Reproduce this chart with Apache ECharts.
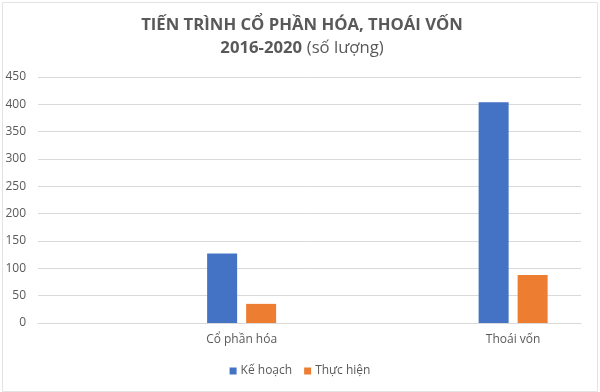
<!DOCTYPE html>
<html>
<head>
<meta charset="utf-8">
<script src="https://cdn.jsdelivr.net/npm/echarts@6/dist/echarts.min.js"></script>
<style>html,body{margin:0;padding:0;background:#fff}#c{width:600px;height:392px}</style>
</head>
<body>
<div id="c"></div>
<script>
var categories = ['', 'Cổ phần hóa', '', 'Thoái vốn'];
var keHoach = [null, 127, null, 404];
var thucHien = [null, 35, null, 88];
var yTicks = { min: 0, max: 450, interval: 50 };

var chart = echarts.init(document.getElementById('c'), null, { renderer: 'canvas' });
var font = '"Open Sans", "Noto Sans", sans-serif';
chart.setOption({
  backgroundColor: '#ffffff',
  animation: false,
  textStyle: { fontFamily: font },
  graphic: [{
    type: 'rect', left: 0, top: 0, shape: { width: 595, height: 389 },
    style: { fill: 'none', stroke: '#e3e3e3', lineWidth: 1 }, silent: true, z: -1
  }],
  title: {
    text: '{b|TIẾN TRÌNH CỔ PHẦN HÓA, THOÁI VỐN}\n{b|2016-2020} {n|(số lượng)}',
    left: 297, textAlign: 'center', top: 9,
    textStyle: {
      rich: {
        b: { fontFamily: font, fontSize: 16.7, fontWeight: 'bold', color: '#595959', lineHeight: 23 },
        n: { fontFamily: font, fontSize: 16.7, fontWeight: 'normal', color: '#595959', lineHeight: 23 }
      }
    }
  },
  legend: {
    data: ['Kế hoạch', 'Thực hiện'],
    top: 360, left: 'center',
    itemWidth: 7, itemHeight: 7, itemGap: 12,
    icon: 'rect',
    textStyle: { color: '#595959', fontSize: 12, fontFamily: font, padding: [0, 0, 0, -1] }
  },
  grid: { left: 38, right: 19, top: 77, bottom: 69, containLabel: false },
  xAxis: {
    type: 'category', data: categories,
    axisLine: { show: true, lineStyle: { color: '#d9d9d9' } },
    axisTick: { show: false },
    axisLabel: { color: '#595959', fontSize: 12, margin: 11, fontFamily: font, interval: 0 }
  },
  yAxis: {
    type: 'value', min: yTicks.min, max: yTicks.max, interval: yTicks.interval,
    axisLine: { show: false }, axisTick: { show: false },
    axisLabel: { color: '#595959', fontSize: 12, margin: 12, fontFamily: font },
    splitLine: { lineStyle: { color: '#d9d9d9', width: 1 } }
  },
  series: [
    { name: 'Kế hoạch', type: 'bar', data: keHoach, barWidth: 30, barGap: '30%', itemStyle: { color: '#4472C4' } },
    { name: 'Thực hiện', type: 'bar', data: thucHien, barWidth: 30, barGap: '30%', itemStyle: { color: '#ED7D31' } }
  ]
});
</script>
</body>
</html>
